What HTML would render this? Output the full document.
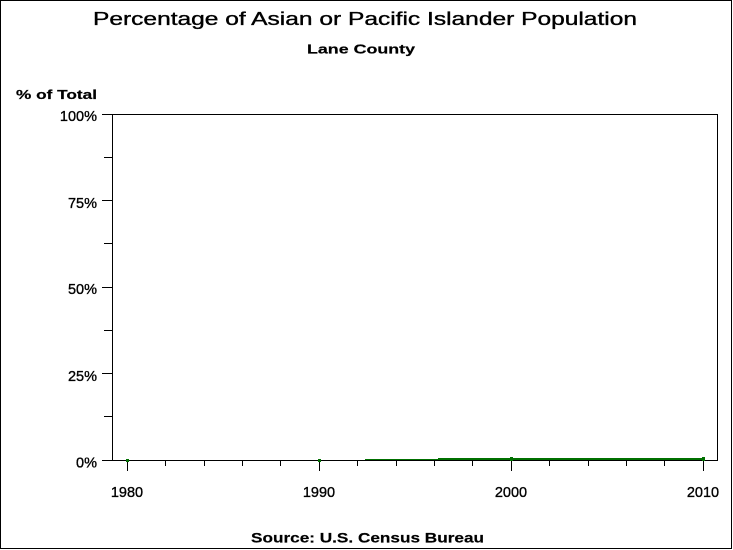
<!DOCTYPE html>
<html>
<head>
<meta charset="utf-8">
<style>
  html, body { margin: 0; padding: 0; background: #fff; }
  svg { display: block; }
  text { font-family: "Liberation Sans", Arial, sans-serif; fill: #000; }
</style>
</head>
<body>
<svg width="733" height="550" viewBox="0 0 733 550" xmlns="http://www.w3.org/2000/svg">
  <rect x="0" y="0" width="733" height="550" fill="#fff"/>
  <!-- outer border -->
  <rect x="0.5" y="0.5" width="731" height="548" fill="none" stroke="#000" stroke-width="1" shape-rendering="crispEdges"/>

  <!-- titles -->
  <text x="93" y="25" font-size="18" stroke="#000" stroke-width="0.35" textLength="544" lengthAdjust="spacingAndGlyphs">Percentage of Asian or Pacific Islander Population</text>
  <text x="307" y="53.5" font-size="13" font-weight="bold" stroke="#000" stroke-width="0.2" textLength="108" lengthAdjust="spacingAndGlyphs">Lane County</text>
  <text x="16" y="99" font-size="13" font-weight="bold" stroke="#000" stroke-width="0.2" textLength="81" lengthAdjust="spacingAndGlyphs">% of Total</text>
  <text x="251" y="542.5" font-size="14" font-weight="bold" stroke="#000" stroke-width="0.2" textLength="233" lengthAdjust="spacingAndGlyphs">Source: U.S. Census Bureau</text>

  <g shape-rendering="crispEdges" stroke="#000" stroke-width="1" fill="none">
    <!-- plot frame -->
    <rect x="112.5" y="114.5" width="605" height="346"/>
    <!-- y major ticks -->
    <line x1="102" y1="114.5" x2="112" y2="114.5"/>
    <line x1="102" y1="200.5" x2="112" y2="200.5"/>
    <line x1="102" y1="287.5" x2="112" y2="287.5"/>
    <line x1="102" y1="373.5" x2="112" y2="373.5"/>
    <line x1="102" y1="460.5" x2="112" y2="460.5"/>
    <!-- y minor ticks -->
    <line x1="104" y1="157.5" x2="112" y2="157.5"/>
    <line x1="104" y1="243.5" x2="112" y2="243.5"/>
    <line x1="104" y1="330.5" x2="112" y2="330.5"/>
    <line x1="104" y1="416.5" x2="112" y2="416.5"/>
    <!-- x major ticks -->
    <line x1="127.5" y1="460" x2="127.5" y2="471"/>
    <line x1="319.5" y1="460" x2="319.5" y2="471"/>
    <line x1="511.5" y1="460" x2="511.5" y2="471"/>
    <line x1="703.5" y1="460" x2="703.5" y2="471"/>
    <!-- x minor ticks -->
    <line x1="165.5" y1="460" x2="165.5" y2="466"/>
    <line x1="204.5" y1="460" x2="204.5" y2="466"/>
    <line x1="242.5" y1="460" x2="242.5" y2="466"/>
    <line x1="280.5" y1="460" x2="280.5" y2="466"/>
    <line x1="357.5" y1="460" x2="357.5" y2="466"/>
    <line x1="396.5" y1="460" x2="396.5" y2="466"/>
    <line x1="434.5" y1="460" x2="434.5" y2="466"/>
    <line x1="472.5" y1="460" x2="472.5" y2="466"/>
    <line x1="549.5" y1="460" x2="549.5" y2="466"/>
    <line x1="588.5" y1="460" x2="588.5" y2="466"/>
    <line x1="626.5" y1="460" x2="626.5" y2="466"/>
    <line x1="664.5" y1="460" x2="664.5" y2="466"/>
  </g>

  <!-- y tick labels -->
  <g font-size="14.5" text-anchor="end" stroke="#000" stroke-width="0.35">
    <text x="97" y="121">100%</text>
    <text x="97" y="208">75%</text>
    <text x="97" y="294">50%</text>
    <text x="97" y="381">25%</text>
    <text x="97" y="467.5">0%</text>
  </g>
  <!-- x tick labels -->
  <g font-size="14.5" text-anchor="middle" stroke="#000" stroke-width="0.35">
    <text x="127" y="497">1980</text>
    <text x="319" y="497">1990</text>
    <text x="511" y="497">2000</text>
    <text x="703" y="497">2010</text>
  </g>

  <!-- series -->
  <g shape-rendering="crispEdges" fill="#007000">
    <rect x="365" y="459" width="73" height="1"/>
    <rect x="438" y="458" width="265" height="2"/>
    <rect x="126" y="459" width="3" height="3"/>
    <rect x="318" y="459" width="3" height="3"/>
    <rect x="510" y="457" width="3" height="4"/>
    <rect x="702" y="457" width="3" height="4"/>
  </g>
</svg>
</body>
</html>
